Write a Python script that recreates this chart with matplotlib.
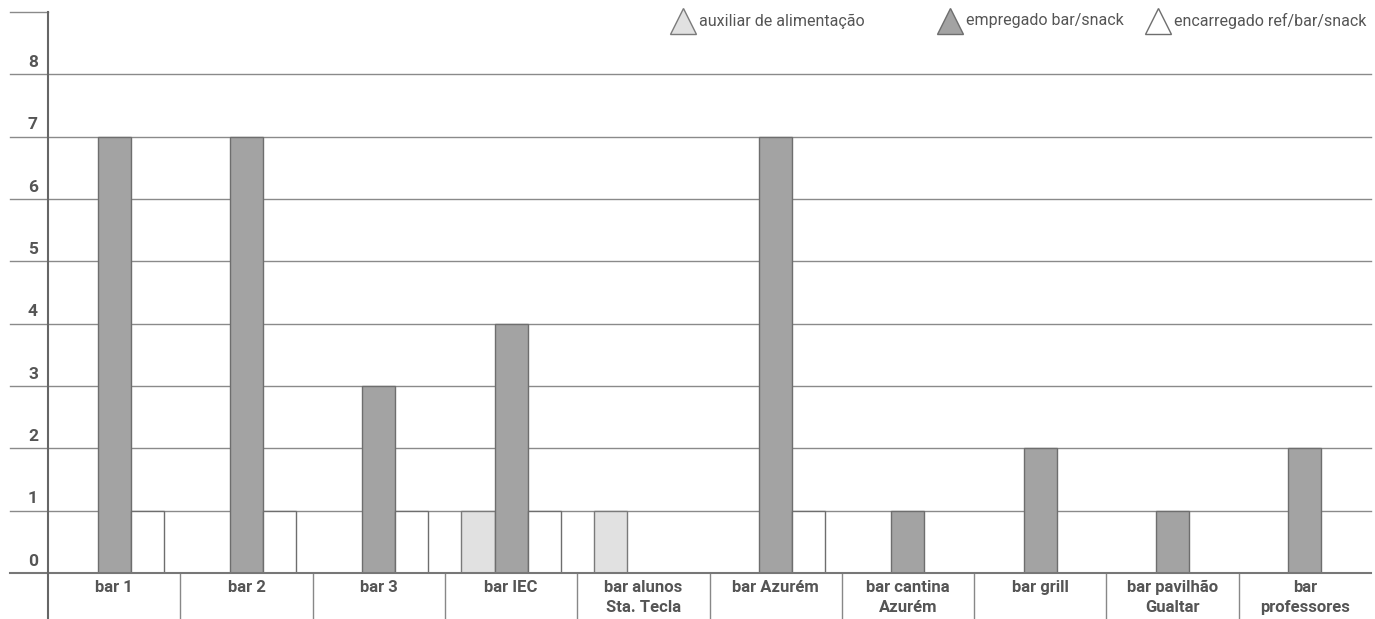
import matplotlib.pyplot as plt
from matplotlib.lines import Line2D
import matplotlib.transforms as mtransforms

plt.rcParams['font.family'] = ['Roboto', 'DejaVu Sans']

categories = ["bar 1", "bar 2", "bar 3", "bar IEC", "bar alunos\nSta. Tecla",
              "bar Azurém", "bar cantina\nAzurém", "bar grill",
              "bar pavilhão\nGualtar", "bar\nprofessores"]
auxiliar = [0, 0, 0, 1, 1, 0, 0, 0, 0, 0]
empregado = [7, 7, 3, 4, 0, 7, 1, 2, 1, 2]
encarregado = [1, 1, 1, 1, 0, 1, 0, 0, 0, 0]
series_names = ["auxiliar de alimentação", "empregado bar/snack", "encarregado ref/bar/snack"]
yticks = [0, 1, 2, 3, 4, 5, 6, 7, 8]

fills = ["#e1e1e1", "#a3a3a3", "#ffffff"]
edges = ["#7a7a7a", "#6e6e6e", "#6e6e6e"]
txt = "#555555"

fig = plt.figure(figsize=(13.75, 6.19), dpi=100)
W, H = 1375, 619
ax = fig.add_axes([48 / W, 46 / H, 1323 / W, 561 / H])

x = list(range(len(categories)))
w = 0.25
for k, vals in enumerate([auxiliar, empregado, encarregado]):
    pos = [i + (k - 1) * w for i in x]
    ax.bar(pos, vals, width=w, color=fills[k], edgecolor=edges[k], linewidth=1, zorder=3)

ax.set_xlim(-0.5, len(categories) - 0.5)
ax.set_ylim(0, 9)
for s in ax.spines.values():
    s.set_visible(False)
ax.set_xticks([])
ax.set_yticks([])

# gridlines, extended left into the label area
xl = -(48 - 10) / 1323
for v in yticks[1:]:
    ax.plot([xl, 1], [v, v], transform=ax.get_yaxis_transform(), color="#8a8a8a",
            lw=1, clip_on=False, zorder=1)
ax.plot([xl, 0], [9, 9], transform=ax.get_yaxis_transform(), color="#8a8a8a",
        lw=1, clip_on=False)
ax.plot([xl, 1], [0, 0], transform=ax.get_yaxis_transform(), color="#777777",
        lw=1.5, clip_on=False, zorder=4)

# y tick labels sit above their gridlines
for v in yticks:
    ax.text(-15 / 1323, v + 0.19, str(v), transform=ax.get_yaxis_transform(),
            ha="center", va="center", fontsize=12.5, fontweight="bold", color=txt)

# y axis line running down through the category band
ax.plot([0, 0], [-46 / 561, 1], transform=ax.transAxes, color="#666666",
        lw=1.5, clip_on=False, zorder=5)

# category separators and labels
tr = mtransforms.blended_transform_factory(ax.transData, ax.transAxes)
for i in range(1, len(categories)):
    ax.plot([i - 0.5, i - 0.5], [-46 / 561, 0], transform=tr, color="#888888",
            lw=1, clip_on=False)
for i, c in enumerate(categories):
    ax.text(i, -7 / 561, c, transform=tr, ha="center", va="top", fontsize=12,
            fontweight="bold", color=txt, linespacing=1.4)

# legend
leg_x = [683, 950, 1158]
for k, name in enumerate(series_names):
    fig.add_artist(Line2D([leg_x[k] / W], [1 - 21 / H], marker="^", markersize=19,
                          markerfacecolor=fills[k], markeredgecolor=edges[k],
                          markeredgewidth=1, transform=fig.transFigure))
    fig.text((leg_x[k] + 16) / W, 1 - 21 / H, name, ha="left", va="center",
             fontsize=11.5, color=txt)

fig.savefig("out.png", dpi=100)
